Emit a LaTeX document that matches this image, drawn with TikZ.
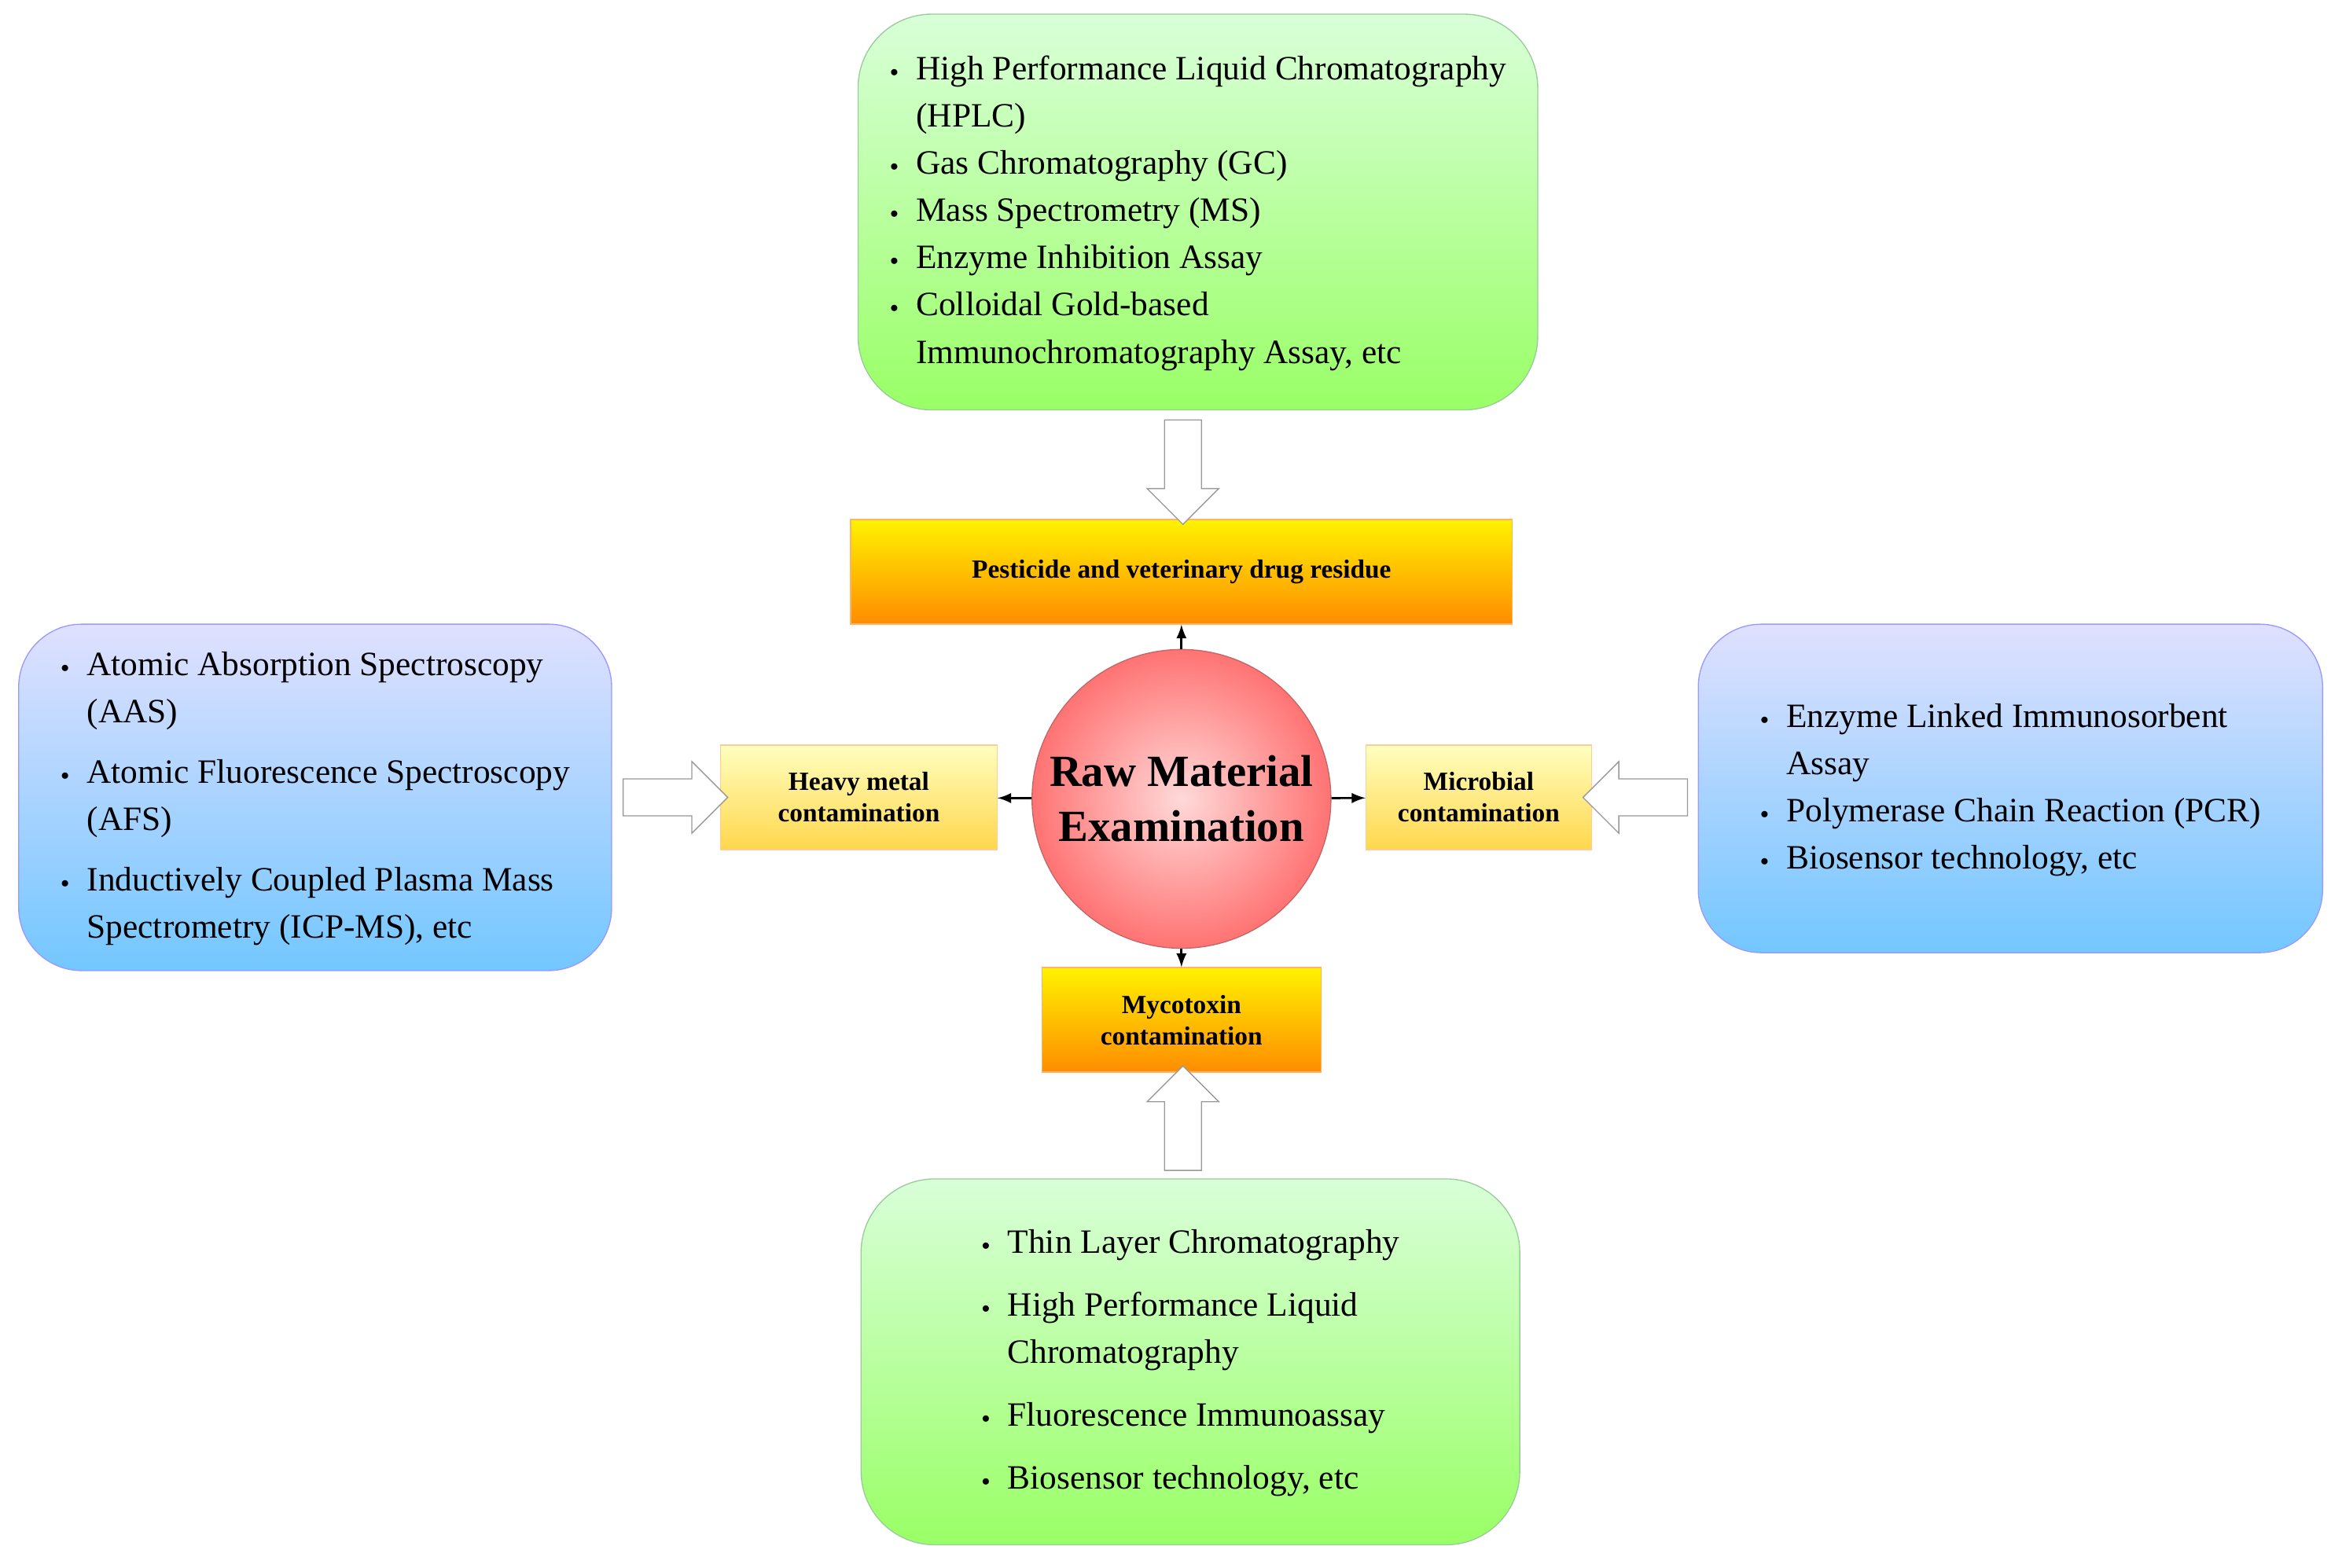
\documentclass[tikz,border=0pt]{standalone}
\usepackage{fontspec}
\setmainfont{Liberation Serif}
\usetikzlibrary{shapes.arrows, positioning}

\newcommand{\bt}{\raisebox{0.25ex}{\tiny$\bullet$}}

\tikzset{
  greenbox/.style={rounded corners=28pt, draw=green!50!black!40, top color=green!15, bottom color=green!55!lime!60, minimum width=455*0.02cm},
  bluebox/.style={rounded corners=24pt, draw=blue!40, top color=blue!12, bottom color=blue!40!cyan!55, minimum width=397*0.02cm},
  orangebox/.style={draw=orange!60, top color=yellow!90!orange, bottom color=orange!90!yellow, font=\bfseries, align=center},
  paleorange/.style={draw=orange!40, top color=yellow!25, bottom color=orange!45!yellow!70, font=\bfseries, align=center},
  hollow/.style={single arrow, draw=gray!80, fill=white, minimum height=70*0.02cm, minimum width=48*0.02cm, single arrow head extend=3pt, inner sep=3pt},
  link/.style={-latex, thick}
}

\begin{document}
\begin{tikzpicture}[x=0.02cm, y=-0.02cm, font=\fontsize{13}{18}\selectfont]
  \useasboundingbox (0,0) rectangle (1568,1050);

  % central node
  \node[circle, draw=red!60!black!60, inner color=red!15, outer color=red!55, minimum size=196*0.02cm, align=center, font=\fontsize{17}{21}\selectfont\bfseries] (raw) at (791,535) {Raw Material\\Examination};

  % contamination types
  \node[orangebox, minimum width=443*0.02cm, minimum height=70*0.02cm] (pest) at (791,383) {Pesticide and veterinary drug residue};
  \node[paleorange, minimum width=185*0.02cm, minimum height=70*0.02cm] (metal) at (575,534) {Heavy metal\\contamination};
  \node[paleorange, minimum width=151*0.02cm, minimum height=70*0.02cm] (micro) at (990,534) {Microbial\\contamination};
  \node[orangebox, minimum width=187*0.02cm, minimum height=70*0.02cm] (myco) at (791,683) {Mycotoxin\\contamination};

  \draw[link] (raw) -- (pest);
  \draw[link] (raw) -- (metal);
  \draw[link] (raw) -- (micro);
  \draw[link] (raw) -- (myco);

  % methods
  \node[greenbox, minimum height=265*0.02cm, align=left] (topm) at (802,142) {%
    \begin{tabular}{@{}l@{\ \ }l@{}}
    \bt & High Performance Liquid Chromatography\\
        & (HPLC)\\
    \bt & Gas Chromatography (GC)\\
    \bt & Mass Spectrometry (MS)\\
    \bt & Enzyme Inhibition Assay\\
    \bt & Colloidal Gold-based\\
        & Immunochromatography Assay, etc
    \end{tabular}};
  \node[bluebox, minimum height=232*0.02cm, align=left] (leftm) at (211,534) {%
    \begin{tabular}{@{}l@{\ \ }l@{}}
    \bt & Atomic Absorption Spectroscopy\\
        & (AAS)\\[5pt]
    \bt & Atomic Fluorescence Spectroscopy\\
        & (AFS)\\[5pt]
    \bt & Inductively Coupled Plasma Mass\\
        & Spectrometry (ICP-MS), etc
    \end{tabular}};
  \node[bluebox, minimum width=418*0.02cm, minimum height=220*0.02cm, align=left] (rightm) at (1346,528) {%
    \begin{tabular}{@{}l@{\ \ }l@{}}
    \bt & Enzyme Linked Immunosorbent\\
        & Assay\\
    \bt & Polymerase Chain Reaction (PCR)\\
    \bt & Biosensor technology, etc
    \end{tabular}};
  \node[greenbox, minimum width=441*0.02cm, minimum height=245*0.02cm, align=left] (botm) at (797,912) {%
    \begin{tabular}{@{}l@{\ \ }l@{}}
    \bt & Thin Layer Chromatography\\[6pt]
    \bt & High Performance Liquid\\
        & Chromatography\\[6pt]
    \bt & Fluorescence Immunoassay\\[6pt]
    \bt & Biosensor technology, etc
    \end{tabular}};

  % hollow arrows
  \node[hollow, rotate=-90] (a1) at (792,310) {};
  \node[hollow] (a2) at (446,534) {};
  \node[hollow, shape border rotate=180] (a3) at (1101,534) {};
  \node[hollow, rotate=90] (a4) at (792,755) {};
\end{tikzpicture}
\end{document}
